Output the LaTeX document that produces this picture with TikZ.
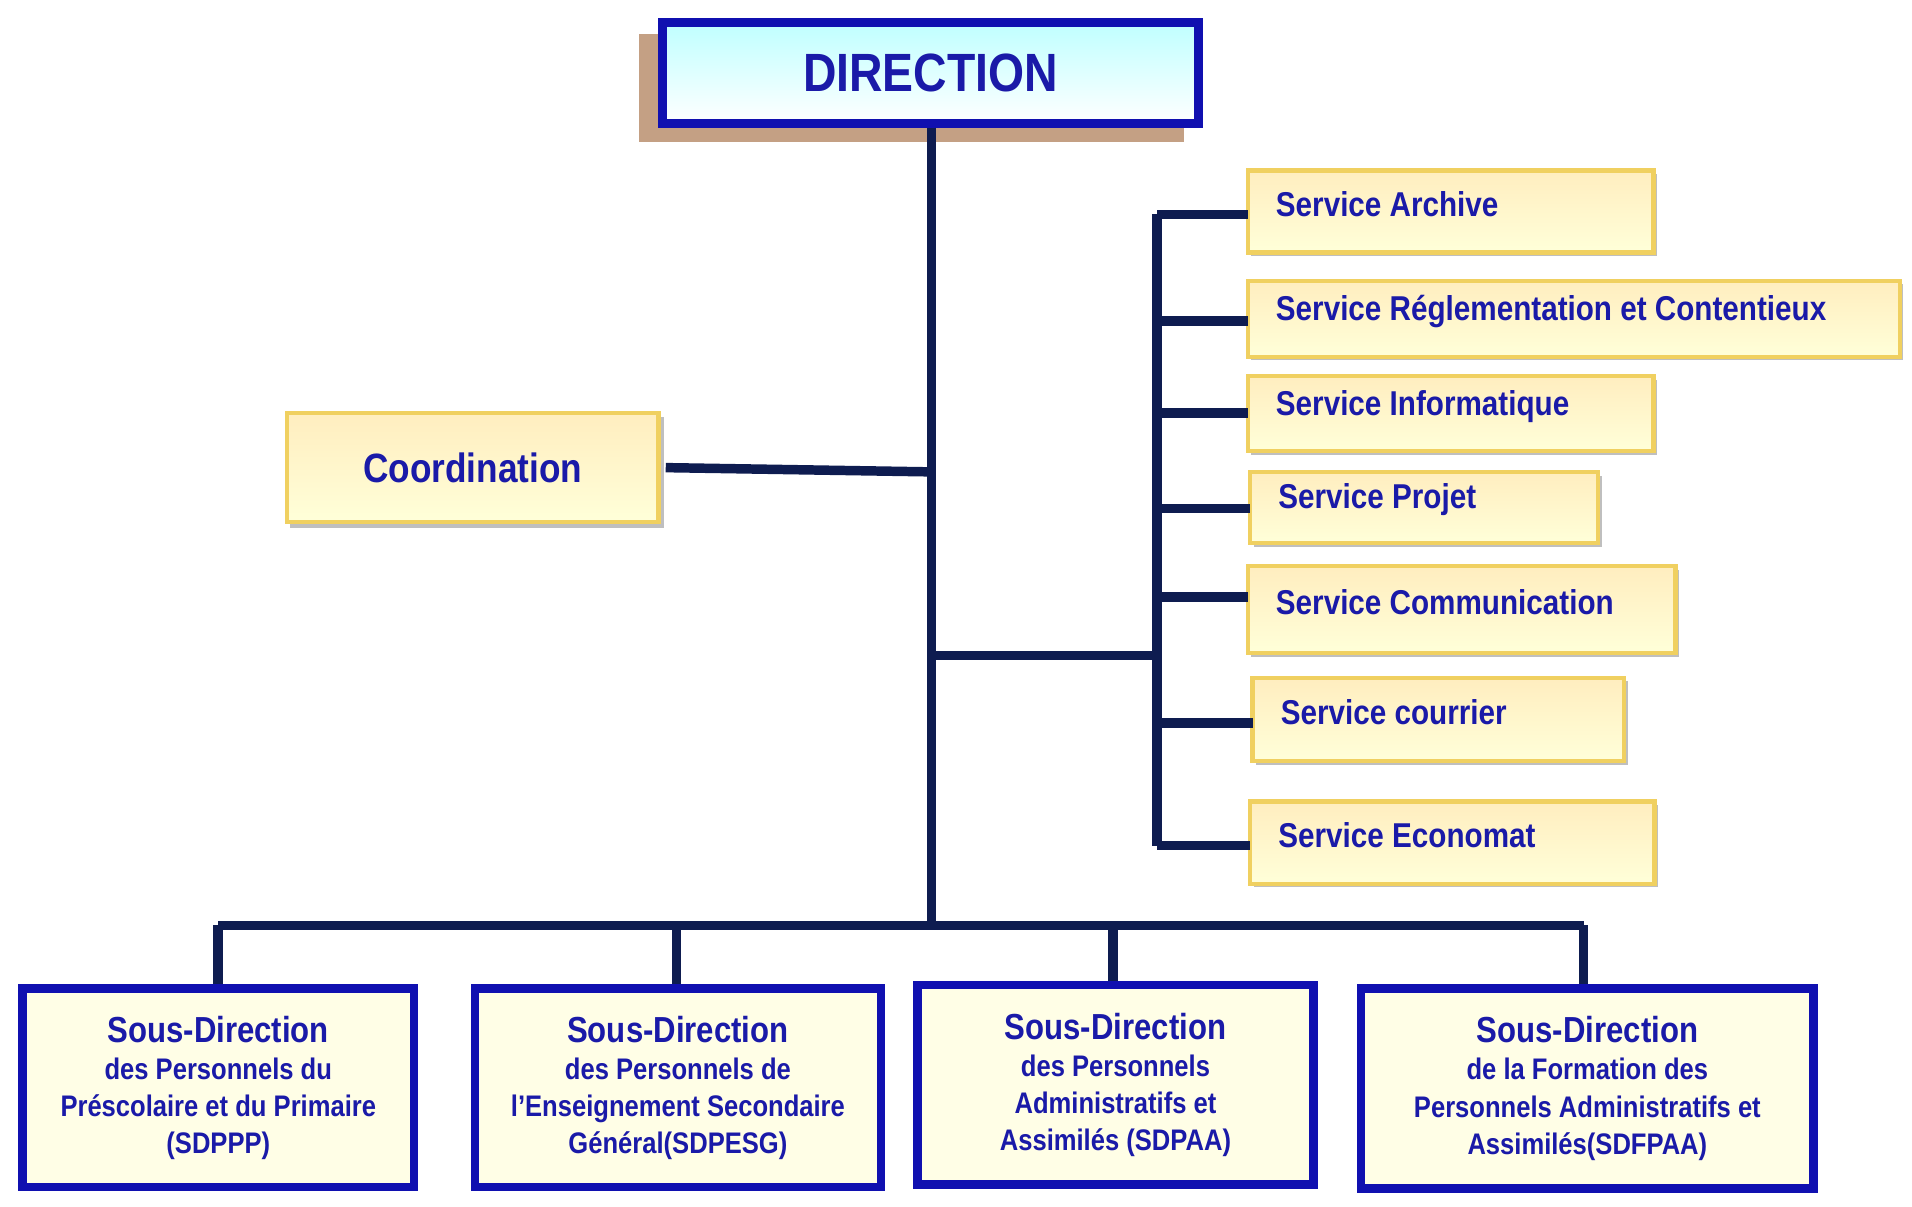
\documentclass[tikz,border=0pt]{standalone}
\usepackage{fontspec}
\setmainfont{Liberation Sans}[FakeStretch=0.86]
\usetikzlibrary{positioning}
\definecolor{txtblue}{HTML}{1A1AA8}
\definecolor{boxblue}{HTML}{1010B0}
\definecolor{linenavy}{HTML}{0E1C50}
\definecolor{shadowtan}{HTML}{C4A084}
\definecolor{goldline}{HTML}{F0D060}
\tikzset{
  every picture/.style={line width=0.75pt},
  link/.style={draw=linenavy, line width=2.2pt},
  service/.style={draw=goldline, line width=1pt, top color=yellow!45!orange!25, bottom color=yellow!15,
    anchor=north west, inner sep=0pt, outer sep=0pt, align=left, text=txtblue},
  sousdir/.style={draw=boxblue, line width=2pt, fill=yellow!10, anchor=north west, inner sep=0pt,
    align=center, text=txtblue, font=\bfseries\fontsize{6.9}{8.6}\selectfont},
}
\newcommand{\sdtitle}[1]{{\fontsize{8.4}{10}\selectfont #1}}
\begin{document}
\begin{tikzpicture}[x=0.01cm,y=-0.01cm]
\useasboundingbox (0,0) rectangle (1560,984);
% direction
\fill[shadowtan] (521,28) rectangle (966,116);
\node (dir) [draw=boxblue, line width=2pt, top color=cyan!25, bottom color=white, minimum width=4.37cm,
  minimum height=0.82cm, anchor=north west, font=\bfseries\fontsize{12.5}{14}\selectfont, text=txtblue]
  at (537,15) {DIRECTION};
% coordination
\fill[black!25] (237,340) rectangle (542,431);
\node (coord) [service, minimum width=3.03cm, minimum height=0.89cm, align=center,
  font=\bfseries\fontsize{9.5}{11}\selectfont] at (234,337) {Coordination};
% services
\foreach \name/\x/\y/\w/\h/\txt in {
  arch/1018/139/331/67/Service Archive,
  regl/1018/229/532/62/Service Réglementation et Contentieux,
  info/1018/307/331/61/Service Informatique,
  proj/1020/385/284/58/Service Projet,
  comm/1018/462/349/71/Service Communication,
  cour/1022/553/303/68/Service courrier,
  econ/1020/654/330/67/Service Economat}{
  \fill[black!25] (\x+3,\y+3) rectangle (\x+\w+3,\y+\h+3);
  \node (\name) [service, minimum width=\w*0.01cm, minimum height=\h*0.01cm] at (\x,\y) {};
  \node [anchor=west, text=txtblue, font=\bfseries\fontsize{8}{9}\selectfont]
    at ([xshift=0.1cm,yshift=0.06cm]\name.west) {\txt};
}
% sous-directions
\node (sd1) [sousdir, minimum width=3.19cm, minimum height=1.62cm] at (15,803)
  {\sdtitle{Sous-Direction}\\des Personnels du\\Préscolaire et du Primaire\\(SDPPP)};
\node (sd2) [sousdir, minimum width=3.31cm, minimum height=1.62cm] at (384,803)
  {\sdtitle{Sous-Direction}\\des Personnels de\\l’Enseignement Secondaire\\Général(SDPESG)};
\node (sd3) [sousdir, minimum width=3.23cm, minimum height=1.63cm] at (745,800)
  {\sdtitle{Sous-Direction}\\des Personnels\\Administratifs et\\Assimilés (SDPAA)};
\node (sd4) [sousdir, minimum width=3.69cm, minimum height=1.63cm] at (1107,803)
  {\sdtitle{Sous-Direction}\\de la Formation des\\Personnels Administratifs et\\Assimilés(SDFPAA)};
% connectors
\coordinate (bus) at (760,755);
\draw[link] (dir.south -| bus) -- (bus);
\draw[link] (coord.east) ++(6,0) -- (760,385);
\draw[link] (760,535) -- (944,535);
\draw[link] (944,175) -- (944,690);
\foreach \name/\y in {arch/175,regl/262,info/337,proj/415,comm/487,cour/590,econ/690}
  \draw[link] (944,\y) -- (\name.west |- 0,\y);
\draw[link] (178,755) -- (1292,755);
\foreach \name/\x in {sd1/178,sd2/552,sd3/908,sd4/1292}
  \draw[link] (\x,755) -- (\name.north -| \x,0);
\end{tikzpicture}
\end{document}
